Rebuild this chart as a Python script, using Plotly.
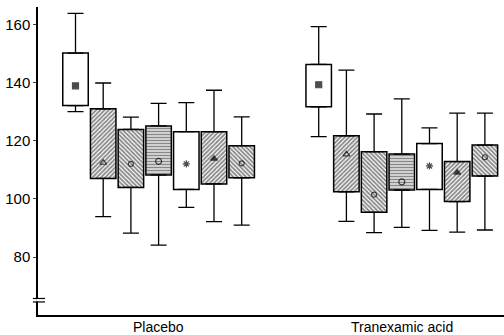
import plotly.graph_objects as go

groups = ["Placebo", "Tranexamic acid"]

placebo_upper = [164, 140, 128.2, 133, 133.2, 137.5, 128.3]
placebo_q3 = [150.3, 131.1, 124.0, 125.2, 123.2, 123.2, 118.4]
placebo_mean = [139, 112.5, 112.1, 113, 112.1, 113.9, 112.3]
placebo_q1 = [132.2, 107.1, 104.0, 108.3, 103.3, 105.2, 107.3]
placebo_lower = [130.1, 93.9, 88.2, 84.1, 97.1, 92.2, 91.0]

tranex_upper = [159.4, 144.4, 129.3, 134.5, 124.5, 129.6, 129.6]
tranex_q3 = [146.4, 121.8, 116.3, 115.5, 119.1, 112.9, 118.6]
tranex_mean = [139.4, 115.4, 101.5, 105.9, 111.4, 109.1, 114.4]
tranex_q1 = [131.8, 102.5, 95.4, 103.1, 103.3, 99.1, 107.9]
tranex_lower = [121.5, 92.3, 88.4, 90.2, 89.2, 88.6, 89.3]

patterns = ["", "/", "\\", "-", "", "/", "\\"]
mean_symbols = ["square", "triangle-up-open", "circle-open", "circle-open",
                "asterisk-open", "triangle-up", "circle-open"]
mean_sizes = [6, 6, 5, 6, 6, 6, 5]

GROUP_GAP = 8.78
data = [
    (placebo_upper, placebo_q3, placebo_mean, placebo_q1, placebo_lower),
    (tranex_upper, tranex_q3, tranex_mean, tranex_q1, tranex_lower),
]

fig = go.Figure()
for g, (up, q3, mn, q1, lo) in enumerate(data):
    xs = [g * GROUP_GAP + i for i in range(len(q3))]
    fig.add_trace(go.Scatter(
        x=xs, y=q3, mode="markers", marker=dict(size=0.1, color="rgba(0,0,0,0)"),
        error_y=dict(type="data", symmetric=False,
                     array=[u - t for u, t in zip(up, q3)],
                     arrayminus=[0] * len(q3),
                     width=8, thickness=1.3, color="black"),
        showlegend=False, hoverinfo="skip"))
    fig.add_trace(go.Scatter(
        x=xs, y=q1, mode="markers", marker=dict(size=0.1, color="rgba(0,0,0,0)"),
        error_y=dict(type="data", symmetric=False,
                     array=[0] * len(q1),
                     arrayminus=[b - l for b, l in zip(q1, lo)],
                     width=8, thickness=1.3, color="black"),
        showlegend=False, hoverinfo="skip"))
    fig.add_trace(go.Bar(
        x=xs, base=q1, y=[t - b for t, b in zip(q3, q1)], width=0.92,
        marker=dict(color="white", line=dict(color="black", width=1.5),
                    pattern=dict(shape=patterns, fgcolor="#111", bgcolor="white",
                                 size=3, solidity=0.6)),
        showlegend=False, hoverinfo="skip"))
    fig.add_trace(go.Scatter(
        x=xs, y=mn, mode="markers",
        marker=dict(symbol=mean_symbols, size=mean_sizes, color="black",
                    line=dict(color="black", width=1.2)),
        showlegend=False, hoverinfo="skip"))

annotations = [
    dict(x=g * GROUP_GAP + 3, y=0, xref="x", yref="paper", text=name,
         showarrow=False, xanchor="center", yanchor="top", yshift=-2,
         font=dict(size=14, color="black"))
    for g, name in enumerate(groups)
]

fig.update_layout(
    width=504, height=335,
    margin=dict(l=38, r=0, t=7, b=20),
    paper_bgcolor="white", plot_bgcolor="white",
    font=dict(family="Liberation Sans, Arial, sans-serif", color="black"),
    barmode="overlay",
    xaxis=dict(range=[-1.354, 15.47], showgrid=False, zeroline=False,
               showline=True, linecolor="black", linewidth=1.5,
               automargin=False, showticklabels=False, ticks=""),
    yaxis=dict(range=[60, 166.2], showgrid=False, zeroline=False,
               showline=True, linecolor="black", linewidth=1.5,
               automargin=False,
               tickvals=[80, 100, 120, 140, 160], ticks="outside", ticklen=3,
               tickfont=dict(size=15)),
    annotations=annotations,
    shapes=[
        dict(type="rect", xref="paper", yref="y", x0=-0.004, x1=0.004,
             y0=64.6, y1=65.6, fillcolor="white", line=dict(width=0)),
        dict(type="line", xref="paper", yref="y", x0=-0.011, x1=0.015,
             y0=65.7, y1=65.7, line=dict(color="black", width=1.2)),
        dict(type="line", xref="paper", yref="y", x0=-0.011, x1=0.015,
             y0=64.5, y1=64.5, line=dict(color="black", width=1.2)),
    ],
)

fig.write_html("out.html", config={"displayModeBar": False})

# remove the default page margin so the figure sits at the window origin
with open("out.html", "r", encoding="utf-8") as f:
    html = f.read()
html = html.replace("<head>", "<head><style>html,body{margin:0;padding:0;overflow:hidden;}</style>", 1)
with open("out.html", "w", encoding="utf-8") as f:
    f.write(html)
